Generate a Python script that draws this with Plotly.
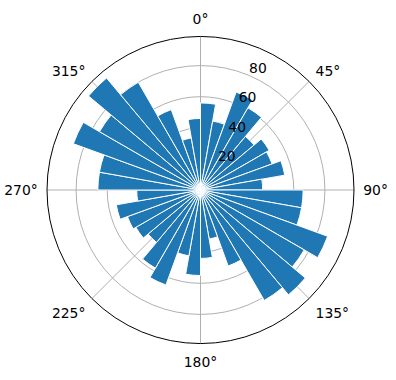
import plotly.graph_objects as go

# bar centres (degrees, clockwise from north) and radial values
theta_deg = [5 + 10 * k for k in range(36)]
radii = [56, 45, 67, 61, 45, 51, 49, 55, 40,
         66, 66, 87, 77, 88, 82, 52, 32, 44,
         55, 43, 65, 58, 44, 48, 50, 55, 41,
         66, 66, 87, 75, 94, 80, 55, 34, 46]
bar_width = 10
r_ticks = [20, 40, 60, 80]
r_tick_text = ["20", "40", "60", "80"]
r_max = 98.7

fig = go.Figure()
fig.add_trace(go.Barpolar(
    r=radii,
    theta=theta_deg,
    width=[bar_width] * len(radii),
    marker=dict(color="#1f77b4", line=dict(color="white", width=1)),
    opacity=1,
))

font = dict(family="DejaVu Sans", size=13.9, color="black")
fig.update_layout(
    width=396, height=380,
    margin=dict(l=0, r=0, t=0, b=0),
    paper_bgcolor="white",
    showlegend=False,
    font=font,
    polar=dict(
        domain=dict(x=[47 / 396, 354 / 396], y=[36.5 / 380, 343.5 / 380]),
        bgcolor="white",
        bargap=0,
        angularaxis=dict(
            direction="clockwise", rotation=90,
            dtick=45, showline=True, linecolor="black", linewidth=1,
            gridcolor="#b0b0b0", gridwidth=0.8,
            ticks="outside", ticklen=6, tickcolor="rgba(0,0,0,0)",
            tickfont=font, layer="above traces",
        ),
        radialaxis=dict(
            range=[0, r_max], tickvals=r_ticks,
            ticktext=[t + "<br> " for t in r_tick_text],
            angle=70.5, tickangle=70.5,
            showline=False, ticks="", gridcolor="#b0b0b0", gridwidth=0.8,
            tickfont=font, side="clockwise", layer="above traces",
        ),
    ),
)
fig.write_html("out.html")
